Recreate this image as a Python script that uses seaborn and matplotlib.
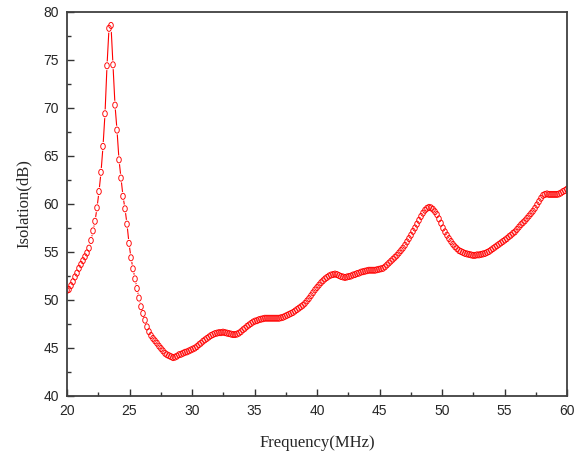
import numpy as np
import pandas as pd
import matplotlib
matplotlib.use("Agg")
import matplotlib.pyplot as plt
import seaborn as sns
from matplotlib.ticker import MultipleLocator
from matplotlib.path import Path

# ---- data ----
freq_start = 20.0   # MHz
freq_stop = 60.0    # MHz
n_points = 251      # uniform sweep
isolation = [
    51.0, 51.1, 51.5, 51.9, 52.4, 52.8, 53.3, 53.7, 54.1, 54.5,
    54.9, 55.4, 56.2, 57.2, 58.2, 59.6, 61.3, 63.3, 66.0, 69.4,
    74.4, 78.3, 78.6, 74.5, 70.3, 67.7, 64.6, 62.7, 60.8, 59.5,
    57.9, 55.9, 54.4, 53.25, 52.2, 51.2, 50.2, 49.3, 48.6, 47.9,
    47.2, 46.7, 46.3, 46.0, 45.75, 45.5, 45.2, 44.95, 44.7, 44.45,
    44.3, 44.2, 44.1, 44.0, 44.05, 44.15, 44.3, 44.35, 44.45, 44.55,
    44.6, 44.7, 44.8, 44.9, 45.0, 45.15, 45.35, 45.5, 45.7, 45.85,
    46.0, 46.15, 46.3, 46.4, 46.5, 46.55, 46.6, 46.6, 46.65, 46.6,
    46.55, 46.5, 46.45, 46.4, 46.4, 46.45, 46.55, 46.7, 46.9, 47.05,
    47.25, 47.4, 47.55, 47.7, 47.8, 47.85, 47.95, 48.0, 48.05, 48.1,
    48.1, 48.1, 48.1, 48.1, 48.1, 48.1, 48.1, 48.15, 48.2, 48.3,
    48.4, 48.5, 48.6, 48.7, 48.85, 49.0, 49.15, 49.3, 49.45, 49.65,
    49.9, 50.15, 50.45, 50.75, 51.05, 51.3, 51.55, 51.8, 52.0, 52.2,
    52.35, 52.5, 52.6, 52.65, 52.7, 52.65, 52.55, 52.45, 52.4, 52.35,
    52.4, 52.45, 52.5, 52.6, 52.65, 52.75, 52.8, 52.9, 52.95, 53.0,
    53.05, 53.1, 53.1, 53.1, 53.1, 53.15, 53.2, 53.25, 53.3, 53.45,
    53.65, 53.85, 54.05, 54.25, 54.45, 54.65, 54.9, 55.15, 55.4, 55.7,
    56.05, 56.4, 56.75, 57.15, 57.5, 57.9, 58.3, 58.7, 59.05, 59.35,
    59.55, 59.65, 59.6, 59.45, 59.2, 58.9, 58.45, 58.0, 57.5, 57.1,
    56.75, 56.4, 56.1, 55.8, 55.55, 55.35, 55.15, 55.05, 54.95, 54.85,
    54.8, 54.75, 54.7, 54.65, 54.65, 54.7, 54.7, 54.75, 54.8, 54.85,
    54.95, 55.05, 55.2, 55.35, 55.5, 55.65, 55.8, 55.95, 56.1, 56.25,
    56.4, 56.6, 56.75, 56.95, 57.1, 57.35, 57.6, 57.85, 58.05, 58.25,
    58.5, 58.75, 59.0, 59.25, 59.55, 59.9, 60.25, 60.6, 60.9, 61.0,
    61.05, 61.0, 61.0, 61.0, 61.0, 61.0, 61.05, 61.15, 61.3, 61.4,
    61.55,
]
x_ticks = [20, 25, 30, 35, 40, 45, 50, 55, 60]
y_ticks = [40, 45, 50, 55, 60, 65, 70, 75, 80]
x_label = "Frequency(MHz)"
y_label = "Isolation(dB)"

frequency = np.linspace(freq_start, freq_stop, n_points)
df = pd.DataFrame({"Frequency": frequency, "Isolation": isolation})

# ---- style ----
sns.set_style("ticks")
plt.rcParams["font.family"] = ["Liberation Sans", "DejaVu Sans"]

fig = plt.figure(figsize=(5.74, 4.55), dpi=100)
ax = fig.add_axes([67 / 574, 59 / 455, 500 / 574, 384 / 455])

# slightly tall oval symbol, like the reference
circ = Path.unit_circle()
oval = Path(circ.vertices * np.array([0.75, 1.0]), circ.codes)

# connecting line (Origin-style: broken around each symbol)
sns.lineplot(data=df, x="Frequency", y="Isolation", ax=ax,
             color="#ff0000", linewidth=0.8, zorder=2)
sns.scatterplot(data=df, x="Frequency", y="Isolation", ax=ax,
                marker="o", s=40, color="white", edgecolor="none",
                linewidth=0, zorder=3)
sns.scatterplot(data=df, x="Frequency", y="Isolation", ax=ax,
                marker=oval, s=19, facecolor="none", edgecolor="#ff0000",
                linewidth=0.65, zorder=4)

ax.set_xlim(x_ticks[0], x_ticks[-1])
ax.set_ylim(y_ticks[0], y_ticks[-1])
ax.set_xticks(x_ticks)
ax.set_yticks(y_ticks)
ax.xaxis.set_minor_locator(MultipleLocator(2.5))
ax.yaxis.set_minor_locator(MultipleLocator(2.5))
ax.tick_params(which="both", direction="in", top=False, right=False,
               color="#333333", width=1.0, labelsize=10, pad=6)
ax.tick_params(which="major", length=5)
ax.tick_params(which="minor", length=3)

for s in ax.spines.values():
    s.set_visible(True)
    s.set_linewidth(1.3)
    s.set_color("#404040")
    s.set_zorder(5)

ax.set_xlabel(x_label, fontfamily="Liberation Serif", fontsize=12, labelpad=12)
ax.set_ylabel(y_label, fontfamily="Liberation Serif", fontsize=12, labelpad=8)

fig.savefig("out.png", dpi=100)
